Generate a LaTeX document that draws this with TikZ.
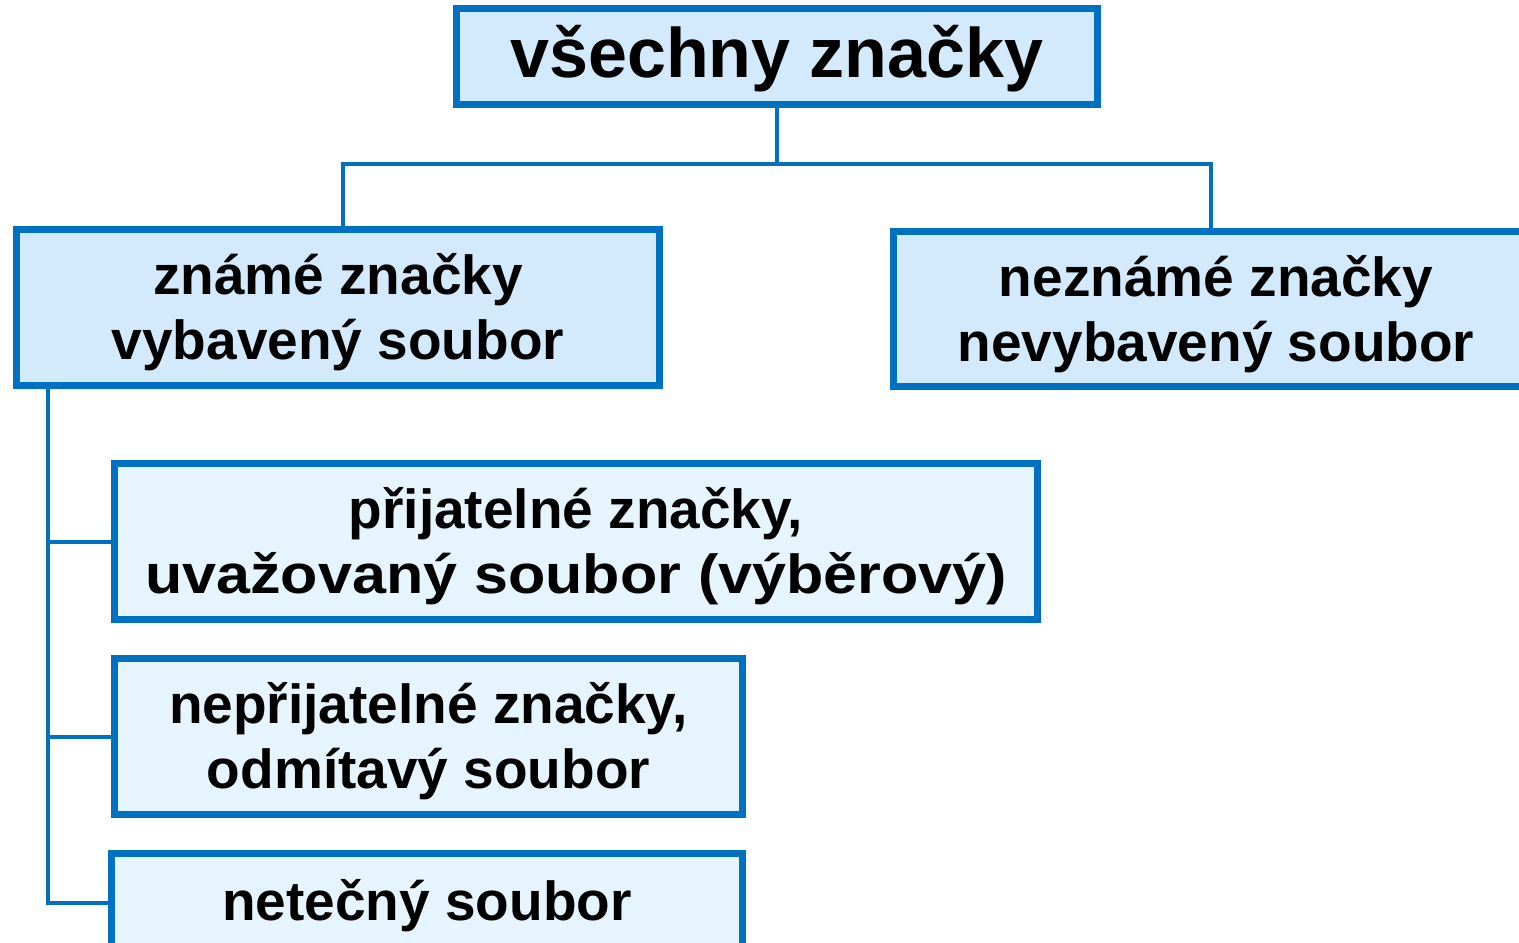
\documentclass[tikz,border=0pt]{standalone}
\usepackage{fontspec}
\setmainfont{Liberation Sans}
\usepackage{graphicx}
\definecolor{bord}{HTML}{0070C0}
\definecolor{fillA}{HTML}{D2EAFC}
\definecolor{fillB}{HTML}{E6F4FD}
\tikzset{
  box/.style={draw=bord, line width=7pt, inner sep=0pt},
  boxA/.style={box, fill=fillA},
  boxB/.style={box, fill=fillB},
  txt/.style={inner sep=0pt, align=center, font=\bfseries\fontsize{55}{65}\selectfont},
  conn/.style={draw=bord, line width=4pt}
}
\begin{document}
\begin{tikzpicture}[x=1pt,y=-1pt]
\useasboundingbox (0,0) rectangle (1519,943);
\clip (0,0) rectangle (1519,943);
\fill[white] (0,0) rectangle (1519,943);
\node[boxA, minimum width=641pt, minimum height=96pt] (top) at (777,56.5) {};
\node[boxA, minimum width=643pt, minimum height=156pt] (known) at (338,307.5) {};
\node[boxA, minimum width=645pt, minimum height=155pt] (unknown) at (1216,309) {};
\node[boxB, minimum width=923pt, minimum height=156pt] (acc) at (576,541.5) {};
\node[boxB, minimum width=628pt, minimum height=156pt] (rej) at (428.5,736.5) {};
\node[boxB, minimum width=631pt, minimum height=100pt] (neu) at (427,903) {};
\node[txt, font=\bfseries\fontsize{70}{80}\selectfont] (topT) at ([yshift=-2pt]top.center) {všechny značky};
\node[txt] (knownT) at ([yshift=-5pt]known.center) {známé značky\\vybavený soubor};
\node[txt] (unknownT) at ([yshift=-5pt]unknown.center) {neznámé značky\\nevybavený soubor};
\node[txt] (accT) at ([yshift=-5pt]acc.center) {přijatelné značky,\\\scalebox{1.11}[1]{uvažovaný soubor (výběrový)}};
\node[txt] (rejT) at ([yshift=-5pt]rej.center) {nepřijatelné značky,\\odmítavý soubor};
\node[txt] (neuT) at ([yshift=-3pt]neu.center) {netečný soubor};
\coordinate (j) at (777,164);
\coordinate (v) at (48,389);
\draw[conn] (top.south) -- (j);
\draw[conn] ([xshift=5pt]known.north) |- (j) -| ([xshift=-5pt]unknown.north);
\draw[conn] (v) |- (acc.west);
\draw[conn] (v) |- (rej.west);
\draw[conn] (v) |- (neu.west);
\end{tikzpicture}
\end{document}
